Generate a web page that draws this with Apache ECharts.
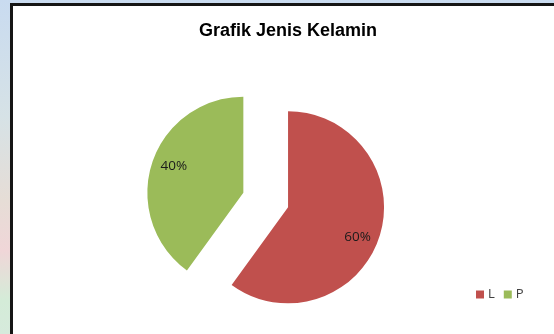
<!DOCTYPE html>
<html>
<head>
<meta charset="utf-8">
<script src="https://cdn.jsdelivr.net/npm/echarts@6/dist/echarts.min.js"></script>
<style>
  html, body { margin: 0; padding: 0; width: 554px; height: 334px; overflow: hidden; }
  body { background: linear-gradient(180deg, #c9dbf0 0%, #d6e2e6 35%, #e6ddd6 60%, #f0d6d8 75%, #d4ecd8 90%, #d6eadc 100%); position: relative; }
  #frame { position: absolute; left: 10px; top: 3px; width: 560px; height: 340px; background: #ffffff; border-left: 3px solid #151515; border-top: 3px solid #151515; }
  #chart { position: absolute; left: 0; top: 0; width: 554px; height: 334px; }
</style>
</head>
<body>
<div id="frame"></div>
<div id="chart"></div>
<script>
const titleText = "Grafik Jenis Kelamin";
const categories = ["L", "P"];
const values = [60, 40];
const colors = ["#C0504D", "#9BBB59"];

const labelShift = [[21, 14], [-21, -11]];

const chart = echarts.init(document.getElementById('chart'), null, { renderer: 'canvas' });
chart.setOption({
  backgroundColor: 'transparent',
  animation: false,
  title: {
    text: titleText,
    left: 288,
    textAlign: 'center',
    top: 22,
    padding: 0,
    textStyle: { fontFamily: 'Liberation Sans, Arial, sans-serif', fontWeight: 'bold', fontSize: 18, color: '#000000' }
  },
  legend: {
    data: categories,
    left: 476,
    top: 288,
    padding: 0,
    orient: 'horizontal',
    itemWidth: 8,
    itemHeight: 8,
    itemGap: 9,
    icon: 'rect',
    selectedMode: false,
    textStyle: { fontFamily: 'Open Sans, sans-serif', fontSize: 13, color: '#404040', padding: [0, 0, 0, -1] }
  },
  series: [{
    type: 'pie',
    radius: 96,
    center: [265.7, 200],
    startAngle: 90,
    clockwise: true,
    selectedMode: 'multiple',
    selectedOffset: 23.5,
    silent: true,
    avoidLabelOverlap: false,
    emphasis: { disabled: true, scale: false },
    itemStyle: { borderWidth: 0 },
    label: {
      show: true,
      position: 'inside',
      formatter: function (p) { return Math.round(p.percent) + '%'; },
      fontFamily: 'Open Sans, sans-serif',
      fontSize: 13.5,
      color: '#1a1a1a'
    },
    labelLine: { show: false },
    labelLayout: function (params) {
      const s = labelShift[params.dataIndex];
      return { dx: s[0], dy: s[1] };
    },
    data: categories.map(function (c, i) {
      return { name: c, value: values[i], selected: true, itemStyle: { color: colors[i] } };
    })
  }]
});
</script>
</body>
</html>
